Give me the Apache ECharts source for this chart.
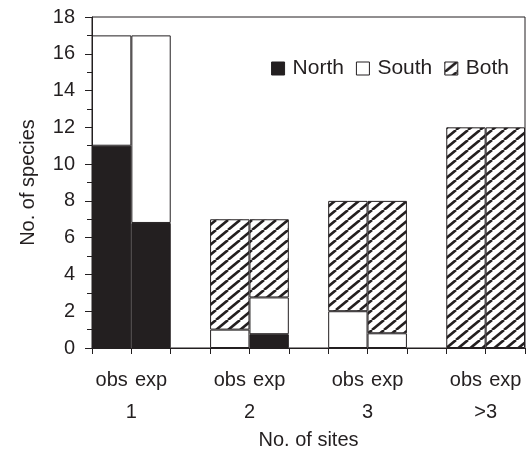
<!DOCTYPE html>
<html>
<head>
<meta charset="utf-8">
<script src="https://cdn.jsdelivr.net/npm/echarts@6/dist/echarts.min.js"></script>
<style>html,body{margin:0;padding:0;background:#fff}#c{width:532px;height:449px}</style>
</head>
<body>
<div id="c"></div>
<script>
// Categories: obs/exp pairs for each number of sites, with empty gap slots between pairs
var categories = ['obs', 'exp', '', 'obs', 'exp', '', 'obs', 'exp', '', 'obs', 'exp'];
var groupLabels = ['', '1', '', '', '2', '', '', '3', '', '', '>3', ''];
// null = component absent from that bar
var north = [11, 6.8, null, null, 0.75, null, null, null, null, null, null];
var south = [6, 10.2, null, 1, 2.0, null, 2, 0.8, null, null, null];
var both  = [null, null, null, 6, 4.25, null, 6, 7.2, null, 12, 12];
var yTicks = [0, 2, 4, 6, 8, 10, 12, 14, 16, 18];

var INK = '#231f20';
function hatch() {
  var w = 12, h = 10;
  var cv = document.createElement('canvas');
  cv.width = w; cv.height = h;
  var ctx = cv.getContext('2d');
  ctx.fillStyle = '#fff'; ctx.fillRect(0, 0, w, h);
  ctx.strokeStyle = INK; ctx.lineWidth = 2.6;
  for (var k = -1; k <= 1; k++) {
    ctx.beginPath();
    ctx.moveTo(k * w, h);
    ctx.lineTo(k * w + w, 0);
    ctx.stroke();
  }
  return { image: cv, repeat: 'repeat' };
}
var hatchFill = hatch();

var chart = echarts.init(document.getElementById('c'));
var font = 'Liberation Sans, Arial, sans-serif';
var FS = 20;
chart.setOption({
  animation: false,
  textStyle: { fontFamily: font, color: INK },
  grid: { left: 92, right: 7, top: 17, bottom: 101, show: true, borderColor: INK, borderWidth: 1,
          containLabel: false, outerBoundsMode: 'none' },
  legend: {
    top: 53, right: 18,
    itemWidth: 13, itemHeight: 13, itemGap: 12,
    textStyle: { fontSize: 21, color: INK, fontFamily: font, padding: [0, 0, 0, 3] },
    data: [
      { name: 'North', icon: 'rect', itemStyle: { color: INK, borderColor: INK, borderWidth: 1 } },
      { name: 'South', icon: 'rect', itemStyle: { color: '#fff', borderColor: INK, borderWidth: 1 } },
      { name: 'Both', icon: 'rect', itemStyle: { color: hatchFill, borderColor: INK, borderWidth: 1 } }
    ]
  },
  xAxis: [
    {
      type: 'category', data: categories, position: 'bottom',
      axisLine: { lineStyle: { color: INK, width: 1 } },
      axisTick: { show: true, interval: 0, length: 6, lineStyle: { color: INK } },
      axisLabel: { interval: 0, fontSize: FS, color: INK, margin: 22, fontFamily: font },
      name: 'No. of sites', nameLocation: 'middle', nameGap: 82,
      nameTextStyle: { fontSize: FS, color: INK, fontFamily: font }
    },
    {
      type: 'category', data: groupLabels, position: 'bottom', boundaryGap: false,
      axisLine: { show: false }, axisTick: { show: false },
      axisLabel: { interval: 0, fontSize: FS, color: INK, margin: 54, fontFamily: font }
    }
  ],
  yAxis: {
    type: 'value', min: 0, max: 18, interval: 2,
    axisLine: { show: true, lineStyle: { color: INK } },
    axisTick: { show: true, length: 7, lineStyle: { color: INK } },
    minorTick: { show: true, splitNumber: 2, length: 5, lineStyle: { color: INK } },
    splitLine: { show: false },
    axisLabel: {
      fontSize: FS, color: INK, margin: 17, fontFamily: font,
      formatter: function (v) { return yTicks.indexOf(v) >= 0 ? String(v) : ''; }
    },
    name: 'No. of species', nameLocation: 'middle', nameGap: 54, nameRotate: 90,
    nameTextStyle: { fontSize: FS, color: INK, fontFamily: font }
  },
  series: [
    { name: 'North', type: 'bar', stack: 's', data: north, barWidth: '100%', barCategoryGap: '0%',
      itemStyle: { color: INK, borderColor: INK, borderWidth: 1 } },
    { name: 'South', type: 'bar', stack: 's', data: south, barWidth: '100%', barCategoryGap: '0%',
      itemStyle: { color: '#fff', borderColor: INK, borderWidth: 1 } },
    { name: 'Both', type: 'bar', stack: 's', data: both, barWidth: '100%', barCategoryGap: '0%',
      itemStyle: { color: hatchFill, borderColor: INK, borderWidth: 1 } }
  ]
});
</script>
</body>
</html>
